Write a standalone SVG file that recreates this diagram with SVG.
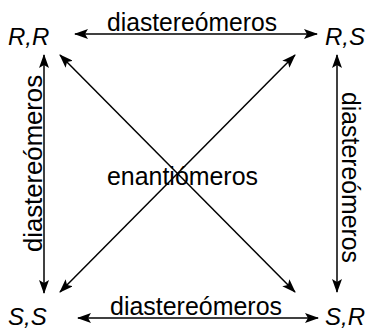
<svg xmlns="http://www.w3.org/2000/svg" width="369" height="333" viewBox="0 0 369 333">
<style>
text{font-family:"Liberation Sans",Arial,sans-serif;fill:#000}
.iso{font-size:24px;font-style:italic}
.lbl{font-size:25px}
.ln{stroke:#000;stroke-width:1.5;fill:none;marker-start:url(#ah);marker-end:url(#ah)}
</style>
<defs>
<marker id="ah" viewBox="0 0 14 10" refX="13" refY="5" markerWidth="14" markerHeight="10" markerUnits="userSpaceOnUse" orient="auto-start-reverse">
<path d="M0,0 L14,5 L0,10 L3,5 Z" fill="#000"/>
</marker>
</defs>
<rect width="369" height="333" fill="#fff"/>
<g id="connectors">
<line class="ln" x1="75" y1="34" x2="317" y2="34"/>
<line class="ln" x1="78" y1="318" x2="318" y2="318"/>
<line class="ln" x1="44" y1="55" x2="44" y2="293"/>
<line class="ln" x1="337" y1="55" x2="337" y2="292"/>
<line class="ln" x1="60" y1="55" x2="295" y2="292"/>
<line class="ln" x1="295" y1="55" x2="60" y2="292"/>
</g>
<g id="RR"><text class="iso" x="8" y="45">R,R</text></g>
<g id="RS"><text class="iso" x="325" y="45">R,S</text></g>
<g id="SS"><text class="iso" x="8" y="325">S,S</text></g>
<g id="SR"><text class="iso" x="325" y="325">S,R</text></g>
<g id="labels">
<text class="lbl" x="107" y="31" textLength="170" lengthAdjust="spacingAndGlyphs">diastereómeros</text>
<text class="lbl" x="110" y="315" textLength="172" lengthAdjust="spacingAndGlyphs">diastereómeros</text>
<text class="lbl" transform="translate(42,252) rotate(-90)" textLength="177" lengthAdjust="spacingAndGlyphs">diastereómeros</text>
<text class="lbl" transform="translate(342,92) rotate(90)" textLength="171" lengthAdjust="spacingAndGlyphs">diastereómeros</text>
<text class="lbl" x="107" y="185" textLength="151" lengthAdjust="spacingAndGlyphs">enantiómeros</text>
</g>
</svg>
